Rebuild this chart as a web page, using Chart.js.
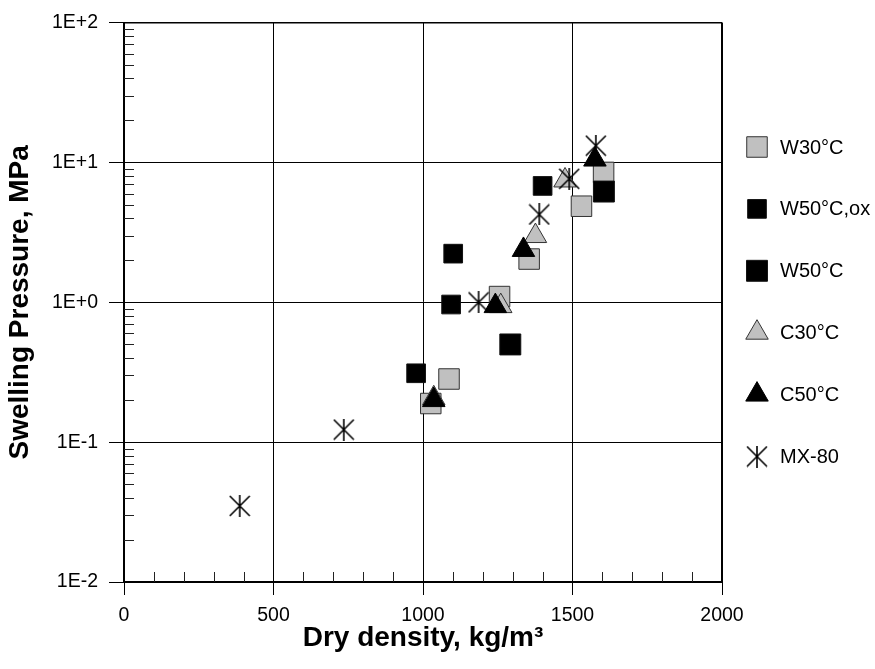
<!DOCTYPE html>
<html>
<head>
<meta charset="utf-8">
<script src="https://cdn.jsdelivr.net/npm/chart.js@4.4.1/dist/chart.umd.min.js"></script>
<style>
	html, body { margin: 0; padding: 0; background: #fff; }
	#wrap { width: 875px; height: 669px; }
</style>
</head>
<body>
<div id="wrap"><canvas id="chart" width="875" height="669"></canvas></div>
<script>
// values
let seriesNames = ["W30°C", "W50°C,ox", "W50°C", "C30°C", "C50°C", "MX-80"];

let w30X = [1026, 1087, 1256, 1355, 1530, 1604];
let w30Y = [0.189, 0.283, 1.10, 2.04, 4.87, 8.5];

let w50oxX = [977, 1094, 1101, 1400];
let w50oxY = [0.311, 0.965, 2.23, 6.8];

let w50X = [1292, 1605];
let w50Y = [0.50, 6.2];

let c30X = [1036, 1260, 1376, 1475];
let c30Y = [0.206, 0.94, 2.98, 7.44];

let c50X = [1036, 1242, 1336, 1575];
let c50Y = [0.20, 0.94, 2.37, 10.5];

let mxX = [387, 735, 1186, 1389, 1489, 1578];
let mxY = [0.035, 0.123, 1.0, 4.25, 7.65, 13.2];

let yTicks = [0.01, 0.1, 1, 10, 100];
let yTickLabels = ["1E-2", "1E-1", "1E+0", "1E+1", "1E+2"];
let xTicks = [0, 500, 1000, 1500, 2000];
let xTickLabels = ["0", "500", "1000", "1500", "2000"];

let fontFam = "'Liberation Sans', Arial, sans-serif";
let gray = "#c0c0c0";

function pts(xs, ys) {
	return xs.map((v, i) => ({ x: v, y: ys[i] }));
}

function makeStar(size) {
	let c = document.createElement("canvas");
	c.width = size;
	c.height = size;
	let g = c.getContext("2d");
	g.strokeStyle = "#000";
	g.lineWidth = 1.6;
	g.beginPath();
	g.moveTo(size / 2, 0);
	g.lineTo(size / 2, size);
	g.moveTo(1, 1);
	g.lineTo(size - 1, size - 1);
	g.moveTo(size - 1, 1);
	g.lineTo(1, size - 1);
	g.stroke();
	return c;
}

let star = makeStar(22);

// minor ticks inside the plot + top/right frame
let framePlugin = {
	id: "frame",
	beforeDatasetsDraw(chart) {
		let ctx = chart.ctx;
		let a = chart.chartArea;
		let x = chart.scales.x;
		let y = chart.scales.y;
		ctx.save();
		ctx.strokeStyle = "#222";
		ctx.lineWidth = 1;
		ctx.beginPath();
		for (let v = 100; v < 2000; v += 100) {
			if (v % 500 === 0) continue;
			let px = Math.round(x.getPixelForValue(v)) + 0.5;
			ctx.moveTo(px, a.bottom);
			ctx.lineTo(px, a.bottom - 10);
		}
		for (let e = -2; e < 2; e++) {
			for (let k = 2; k <= 9; k++) {
				let py = Math.round(y.getPixelForValue(k * Math.pow(10, e))) + 0.5;
				ctx.moveTo(a.left, py);
				ctx.lineTo(a.left + 10, py);
			}
		}
		ctx.stroke();

		ctx.strokeStyle = "#000";
		ctx.lineWidth = 1.5;
		ctx.beginPath();
		ctx.moveTo(a.left, a.top);
		ctx.lineTo(a.right, a.top);
		ctx.stroke();
		ctx.lineWidth = 2;
		ctx.beginPath();
		ctx.moveTo(a.right, a.top);
		ctx.lineTo(a.right, a.bottom);
		ctx.stroke();
		ctx.restore();
	}
};

// legend drawn at the right side, one row per series
let legendPlugin = {
	id: "sideLegend",
	afterDraw(chart) {
		let ctx = chart.ctx;
		let markerX = 757;
		let textX = 780;
		let top = 147;
		let step = 61.9;
		ctx.save();
		ctx.font = "20px " + fontFam;
		ctx.textBaseline = "middle";
		ctx.textAlign = "left";
		chart.data.datasets.forEach(function (ds, i) {
			let y = top + i * step;
			ctx.fillStyle = ds.backgroundColor;
			ctx.strokeStyle = ds.borderColor;
			ctx.lineWidth = ds.borderWidth;
			Chart.helpers.drawPoint(ctx, {
				pointStyle: ds.pointStyle,
				radius: ds.pointRadius,
				rotation: 0,
				borderWidth: ds.borderWidth
			}, markerX, y);
			ctx.fillStyle = "#000";
			ctx.fillText(ds.label, textX, y + 1);
		});
		ctx.restore();
	}
};

let chart = new Chart(document.getElementById("chart"), {
	type: "scatter",
	data: {
		datasets: [
			{
				label: seriesNames[0], data: pts(w30X, w30Y), order: 6,
				pointStyle: "rect", pointRadius: 14.5, backgroundColor: gray, borderColor: "#333", borderWidth: 1
			}, {
				label: seriesNames[1], data: pts(w50oxX, w50oxY), order: 5,
				pointStyle: "rect", pointRadius: 13.2, backgroundColor: "#000", borderColor: "#111", borderWidth: 1
			}, {
				label: seriesNames[2], data: pts(w50X, w50Y), order: 4,
				pointStyle: "rect", pointRadius: 14.8, backgroundColor: "#000", borderColor: "#111", borderWidth: 1
			}, {
				label: seriesNames[3], data: pts(c30X, c30Y), order: 3,
				pointStyle: "triangle", pointRadius: 13, backgroundColor: gray, borderColor: "#333", borderWidth: 1
			}, {
				label: seriesNames[4], data: pts(c50X, c50Y), order: 2,
				pointStyle: "triangle", pointRadius: 13, backgroundColor: "#000", borderColor: "#000", borderWidth: 1
			}, {
				label: seriesNames[5], data: pts(mxX, mxY), order: 1,
				pointStyle: star, pointRadius: 11, backgroundColor: "#000", borderColor: "#000", borderWidth: 1
			}
		]
	},
	options: {
		responsive: false,
		animation: false,
		devicePixelRatio: 1,
		layout: { padding: { left: 2, top: 22, right: 153, bottom: 0 } },
		plugins: {
			legend: { display: false },
			tooltip: { enabled: false }
		},
		elements: { point: { hoverRadius: 0 } },
		scales: {
			x: {
				type: "linear",
				min: 0,
				max: 2000,
				afterBuildTicks: function (s) {
					s.ticks = xTicks.map(v => ({ value: v }));
				},
				afterFit: function (s) { s.height = 87; },
				grid: { color: "#000", lineWidth: 1, tickLength: 13, tickColor: "#000" },
				border: { color: "#000", width: 2 },
				ticks: {
					color: "#000",
					font: { size: 19.5, family: fontFam },
					padding: 9,
					maxRotation: 0,
					callback: function (v) {
						let i = xTicks.indexOf(v);
						return i >= 0 ? xTickLabels[i] : "";
					}
				},
				title: {
					display: true,
					text: "Dry density, kg/m³",
					color: "#000",
					font: { size: 28, weight: "bold", family: fontFam },
					padding: { top: 0, bottom: 14 }
				}
			},
			y: {
				type: "logarithmic",
				min: 0.01,
				max: 100,
				afterBuildTicks: function (s) {
					s.ticks = yTicks.map(v => ({ value: v }));
				},
				afterFit: function (s) { s.width = 122; },
				grid: { color: "#000", lineWidth: 1, tickLength: 15, tickColor: "#000" },
				border: { color: "#000", width: 2 },
				ticks: {
					color: "#000",
					font: { size: 19.5, family: fontFam },
					padding: 11,
					callback: function (v) {
						let i = yTicks.indexOf(v);
						return i >= 0 ? yTickLabels[i] : "";
					}
				},
				title: {
					display: true,
					text: "Swelling Pressure, MPa",
					color: "#000",
					font: { size: 28, weight: "bold", family: fontFam },
					padding: { top: 1, bottom: 0 }
				}
			}
		}
	},
	plugins: [framePlugin, legendPlugin]
});
</script>
</body>
</html>
